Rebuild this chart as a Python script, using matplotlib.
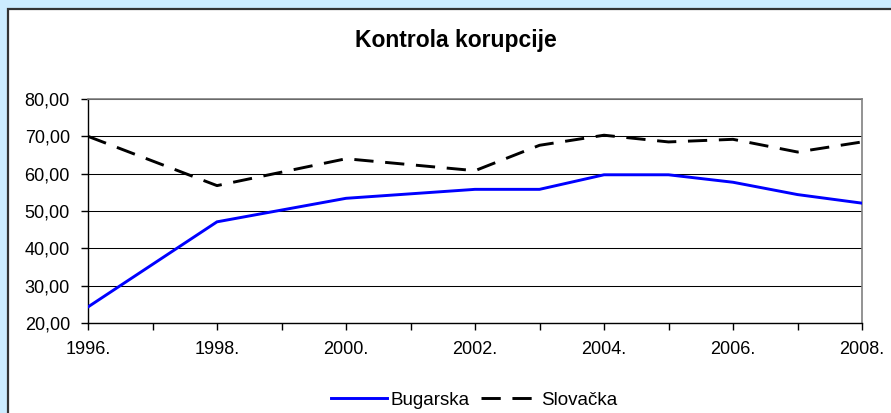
"""Kontrola korupcije: Bugarska vs. Slovačka, Excel-style line chart."""
import matplotlib
matplotlib.use("Agg")
import matplotlib.pyplot as plt
from matplotlib.patches import Rectangle
from matplotlib.ticker import FuncFormatter

years = [1996, 1998, 2000, 2002, 2003, 2004, 2005, 2006, 2007, 2008]
bugarska = [24.3, 47.1, 53.4, 55.8, 55.8, 59.7, 59.7, 57.7, 54.4, 52.1]
slovacka = [70.0, 56.8, 64.0, 60.8, 67.6, 70.3, 68.5, 69.2, 65.8, 68.5]
tick_years = list(range(1996, 2009))
labelled_years = [1996, 1998, 2000, 2002, 2004, 2006, 2008]

plt.rcParams["font.family"] = ["Liberation Sans", "DejaVu Sans"]

W, H = 891, 413
fig = plt.figure(figsize=(W / 100, H / 100), dpi=100, facecolor="#CCECFF")

# white chart area with dark border, running off the right/bottom edge
fig.patches.append(Rectangle((8 / W, -0.1), 1.2, 1.1 - 9 / H,
                             transform=fig.transFigure, facecolor="white",
                             edgecolor="#333333", linewidth=1.6, zorder=-10))

ax = fig.add_axes([88 / W, 1 - 323 / H, (862 - 88) / W, (323 - 99) / H])
ax.set_facecolor("white")

ax.plot(years, bugarska, color="#0000FF", linewidth=2.1, label="Bugarska",
        solid_joinstyle="miter", zorder=3)
ax.plot(years, slovacka, color="black", linewidth=2.1, label="Slovačka",
        linestyle=(0, (6.6, 4.0)), zorder=3)

ax.set_xlim(1996, 2008)
ax.set_ylim(20, 80)
ax.set_yticks(range(20, 81, 10))
ax.yaxis.set_major_formatter(FuncFormatter(lambda v, _: f"{v:.2f}".replace(".", ",")))
ax.set_xticks(tick_years)
ax.set_xticklabels([f"{y}." if y in labelled_years else "" for y in tick_years])

ax.grid(axis="y", color="black", linewidth=0.75, zorder=1)
ax.set_axisbelow(True)
for side in ("top", "right"):
    ax.spines[side].set_color("#808080")
    ax.spines[side].set_linewidth(1.2)
for side in ("left", "bottom"):
    ax.spines[side].set_color("black")
    ax.spines[side].set_linewidth(1.0)

ax.tick_params(axis="both", direction="out", length=5, width=1.0,
               labelsize=13, colors="black")
ax.tick_params(axis="y", pad=8)
ax.tick_params(axis="x", pad=8)

fig.text(456 / W, 1 - 41 / H, "Kontrola korupcije", ha="center", va="center",
         fontsize=16.5, fontweight="bold")

fig.legend(loc="center", bbox_to_anchor=(474 / W, 1 - 400 / H), ncol=2,
           frameon=False, fontsize=13.5, handlelength=3.0, handletextpad=0.2,
           columnspacing=0.6)

fig.savefig("out.png", dpi=100, facecolor=fig.get_facecolor())
